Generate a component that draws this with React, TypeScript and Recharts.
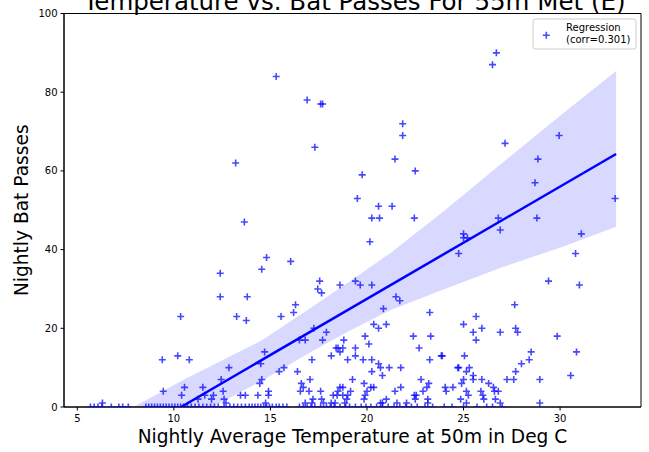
import React from 'react';
import { ComposedChart, Scatter, Line, Area, XAxis, YAxis, ReferenceArea } from 'recharts';

const TITLE = 'Temperature vs. Bat Passes For 55m Met (E)';
const X_LABEL = 'Nightly Average Temperature at 50m in Deg C';
const Y_LABEL = 'Nightly Bat Passes';
const LEGEND_LINES = ['Regression', '(corr=0.301)'];

const xTicks = [5, 10, 15, 20, 25, 30];
const yTicks = [0, 20, 40, 60, 80, 100];
const xDomain: [number, number] = [4.31, 34.19];
const yDomain: [number, number] = [0, 100];

// Nights with no recorded passes (temperature only)
const silentNightTemps = [
  5.68, 5.87, 6.07, 6.27, 6.76, 7.15, 7.35, 7.64,
  8.55, 8.7, 8.85, 9.0, 9.15, 9.3, 9.45, 9.6, 9.75, 9.9, 10.05, 10.2, 10.35, 10.5,
  10.7, 10.9, 11.1, 11.3, 11.5, 11.7, 11.9, 12.1, 12.3, 12.6, 12.9, 13.1, 13.3,
  13.5, 13.7, 13.9, 14.05, 14.2, 14.35, 14.5, 14.65, 14.8, 14.95, 15.1, 15.3,
  15.45, 15.65, 15.85, 16.5, 16.7, 16.9, 17.1, 17.3, 17.6, 17.9, 18.1, 18.3,
  18.6, 18.9, 19.1, 19.4, 19.7, 19.95, 20.2, 20.5, 20.8, 21.1, 21.4, 21.7, 22.0,
  22.3, 22.6, 23.0, 23.4, 24.0, 24.4, 25.0, 25.7, 26.2, 26.5, 27.0,
];

// [temperature, passes] for cooler nights with activity
const coolNights: [number, number][] = [
  [6.3, 1], [9.4, 12], [9.45, 4], [10.2, 13], [10.35, 23], [10.4, 3], [10.55, 5],
  [10.8, 12], [11.25, 2], [11.5, 5], [11.6, 3], [11.95, 2], [12.05, 3], [12.4, 34],
  [12.4, 28], [12.45, 7], [12.55, 4], [12.6, 2], [12.7, 1], [12.85, 10], [13.2, 62],
  [13.25, 23], [13.45, 3], [13.65, 47], [13.7, 3], [13.75, 22], [13.8, 28],
  [14.35, 3], [14.45, 6], [14.5, 11], [14.55, 35], [14.55, 7], [14.7, 14], [14.75, 1],
  [14.8, 38], [14.9, 3], [14.9, 4], [15.3, 84], [15.45, 9], [15.55, 23], [15.7, 10],
];

// [temperature, passes] for mid-range nights
const mildNights: [number, number][] = [
  [16.05, 37], [16.2, 24], [16.3, 26], [16.4, 9], [16.5, 17], [16.55, 4], [16.6, 6],
  [16.7, 5], [16.8, 17], [16.8, 1], [16.9, 78], [17.0, 4], [17.05, 7], [17.15, 12],
  [17.15, 1], [17.2, 2], [17.25, 20], [17.3, 66], [17.45, 30], [17.55, 32], [17.6, 77],
  [17.6, 4], [17.65, 29], [17.65, 2], [17.7, 77], [17.7, 17], [17.75, 1], [17.9, 19],
  [18.15, 13], [18.15, 1], [18.25, 3], [18.35, 1], [18.4, 15], [18.45, 3], [18.5, 15],
  [18.5, 4], [18.6, 31], [18.6, 14], [18.6, 5], [18.75, 15], [18.75, 5], [18.75, 3],
  [18.8, 17], [18.85, 1], [18.95, 2], [19.0, 12], [19.0, 3], [19.15, 4], [19.25, 7],
  [19.4, 32], [19.4, 15], [19.4, 13], [19.5, 53], [19.65, 31], [19.75, 59], [19.8, 12],
  [19.85, 6], [19.85, 2], [19.9, 18], [19.9, 3], [20.0, 4], [20.1, 16], [20.15, 42],
  [20.2, 5], [20.25, 31], [20.25, 48], [20.25, 12], [20.25, 9], [20.35, 21], [20.35, 5],
  [20.6, 51], [20.6, 20], [20.6, 11], [20.65, 48], [20.7, 10], [20.7, 1], [20.8, 8],
  [20.8, 1], [20.85, 25], [21.0, 21], [21.0, 2], [21.15, 10], [21.3, 51], [21.45, 63],
  [21.45, 4], [21.5, 28], [21.55, 1], [21.7, 27], [21.75, 10], [21.75, 5],
];

// [temperature, passes] for warmer nights
const warmNights: [number, number][] = [
  [21.85, 72], [21.85, 69], [22.05, 1], [22.4, 18], [22.45, 48], [22.45, 3], [22.5, 60],
  [22.5, 2], [22.55, 3], [22.7, 15], [22.8, 7], [22.9, 4], [23.1, 5], [23.15, 2],
  [23.15, 1], [23.2, 6], [23.25, 24], [23.25, 12], [23.3, 18], [23.85, 13], [23.9, 13],
  [24.05, 5], [24.1, 4], [24.45, 5], [24.7, 10], [24.75, 39], [24.75, 10], [24.85, 2],
  [24.9, 6], [25.0, 44], [25.0, 43], [25.0, 21], [25.0, 7], [25.05, 13], [25.15, 9],
  [25.15, 4], [25.15, 1], [25.2, 43], [25.25, 3], [25.3, 10], [25.5, 19], [25.5, 8],
  [25.5, 7], [25.65, 23], [25.65, 17], [25.9, 4], [25.95, 20], [25.95, 7], [26.0, 3],
  [26.05, 2], [26.3, 6], [26.5, 87], [26.55, 5], [26.6, 4], [26.65, 2], [26.7, 90],
  [26.8, 48], [26.8, 4], [26.9, 45], [26.9, 19], [26.9, 1], [27.15, 67], [27.25, 7],
  [27.6, 7], [27.65, 26], [27.7, 20], [27.7, 9], [27.8, 19], [28.0, 11], [28.4, 12],
  [28.5, 14], [28.7, 57], [28.8, 48], [28.85, 63], [28.95, 7], [28.95, 1], [29.4, 32],
  [29.85, 18], [29.95, 69], [30.55, 8], [30.8, 39], [30.85, 14], [31.0, 31], [31.1, 44],
  [32.85, 53],
];

// Fitted regression line end points
const fitTemps = [10.37, 32.9];
const fitPasses = [0, 64.3];

// Confidence band of the fit (lower, upper), floored at zero
const bandTemps = [7.9, 10.6, 12, 14.5, 17, 19, 21.2, 24, 27, 30, 32.9];
const bandLow = [0, 0, 0, 6.5, 13.7, 19.1, 24.6, 29.9, 35.5, 40.5, 45.8];
const bandHigh = [0, 7.2, 10.6, 16.8, 24.9, 31.6, 39.1, 49.9, 62, 74, 85.4];

const scatterData = [
  ...silentNightTemps.map((t) => ({ t, n: 0 })),
  ...coolNights.map(([t, n]) => ({ t, n })),
  ...mildNights.map(([t, n]) => ({ t, n })),
  ...warmNights.map(([t, n]) => ({ t, n })),
];
const fitData = fitTemps.map((t, i) => ({ t, fit: fitPasses[i] }));
const bandData = bandTemps.map((t, i) => ({ t, band: [bandLow[i], bandHigh[i]] }));

const BLUE = '#0000ff';
const FONT = 'DejaVu Sans, sans-serif';

const PlusMarker = (props: any) => {
  const { cx, cy } = props;
  if (cx == null || cy == null) return null;
  const a = 3.5;
  return (
    <path
      d={`M${cx - a},${cy}H${cx + a}M${cx},${cy - a}V${cy + a}`}
      stroke={BLUE}
      strokeOpacity={0.72}
      strokeWidth={1.6}
      fill="none"
    />
  );
};

const XAxisTitle = (props: any) => {
  const { viewBox } = props;
  return (
    <text x={viewBox.x + viewBox.width / 2} y={viewBox.y + 36} textAnchor="middle"
      fontSize={18.6} fontFamily={FONT} fill="#000">{X_LABEL}</text>
  );
};

const YAxisTitle = (props: any) => {
  const { viewBox } = props;
  const cy = viewBox.y + viewBox.height / 2;
  const x = 27.5;
  return (
    <text x={x} y={cy} transform={`rotate(-90, ${x}, ${cy})`} textAnchor="middle"
      fontSize={18.6} fontFamily={FONT} fill="#000">{Y_LABEL}</text>
  );
};

// Frame decorations: title above the plot and the legend box in the top-right corner
const FrameDecor = (props: any) => {
  const { viewBox } = props;
  const { x, y, width } = viewBox;
  const right = x + width;
  const lx = right - 108;
  const ly = y + 5.5;
  return (
    <g>
      <text x={x + width / 2 + 2} y={y - 3.5} textAnchor="middle" fontSize={24.5}
        fontFamily={FONT} fill="#000">{TITLE}</text>
      <rect x={lx} y={ly} width={103} height={30} rx={2.5} fill="#fff" fillOpacity={0.8}
        stroke="#cccccc" strokeWidth={1} />
      <PlusMarker cx={lx + 13.3} cy={ly + 16.3} />
      <text x={lx + 33} y={ly + 12} fontSize={10} fontFamily={FONT} fill="#000">{LEGEND_LINES[0]}</text>
      <text x={lx + 33} y={ly + 24} fontSize={10} fontFamily={FONT} fill="#000">{LEGEND_LINES[1]}</text>
    </g>
  );
};

export default function App() {
  return (
    <div style={{ position: 'absolute', left: 0, top: 0, width: 649, height: 452, background: '#fff' }}>
      <ComposedChart width={649} height={452} margin={{ top: 13.5, right: 8, bottom: 0, left: 0 }}>
        <XAxis
          type="number"
          dataKey="t"
          domain={xDomain}
          ticks={xTicks}
          allowDataOverflow
          height={45}
          tickSize={3.5}
          tickMargin={4}
          tick={{ fontSize: 10, fontFamily: FONT, fill: '#000' }}
          axisLine={{ stroke: '#000', strokeWidth: 1 }}
          tickLine={{ stroke: '#000', strokeWidth: 1 }}
          label={XAxisTitle}
        />
        <YAxis
          type="number"
          dataKey="n"
          domain={yDomain}
          ticks={yTicks}
          allowDataOverflow
          width={64}
          tickSize={3.5}
          tickMargin={3}
          tick={{ fontSize: 10, fontFamily: FONT, fill: '#000' }}
          axisLine={{ stroke: '#000', strokeWidth: 1 }}
          tickLine={{ stroke: '#000', strokeWidth: 1 }}
          label={YAxisTitle}
        />
        <Area
          data={bandData}
          dataKey="band"
          type="linear"
          fill={BLUE}
          fillOpacity={0.15}
          stroke="none"
          isAnimationActive={false}
          activeDot={false}
          dot={false}
        />
        <Line
          data={fitData}
          dataKey="fit"
          type="linear"
          stroke={BLUE}
          strokeWidth={2.5}
          dot={false}
          activeDot={false}
          isAnimationActive={false}
        />
        <Scatter
          data={scatterData}
          dataKey="n"
          shape={PlusMarker}
          isAnimationActive={false}
        />
        <ReferenceArea
          x1={xDomain[0]}
          x2={xDomain[1]}
          y1={yDomain[0]}
          y2={yDomain[1]}
          fill="none"
          stroke="#000"
          strokeWidth={1}
          ifOverflow="visible"
          label={FrameDecor}
        />
      </ComposedChart>
    </div>
  );
}
